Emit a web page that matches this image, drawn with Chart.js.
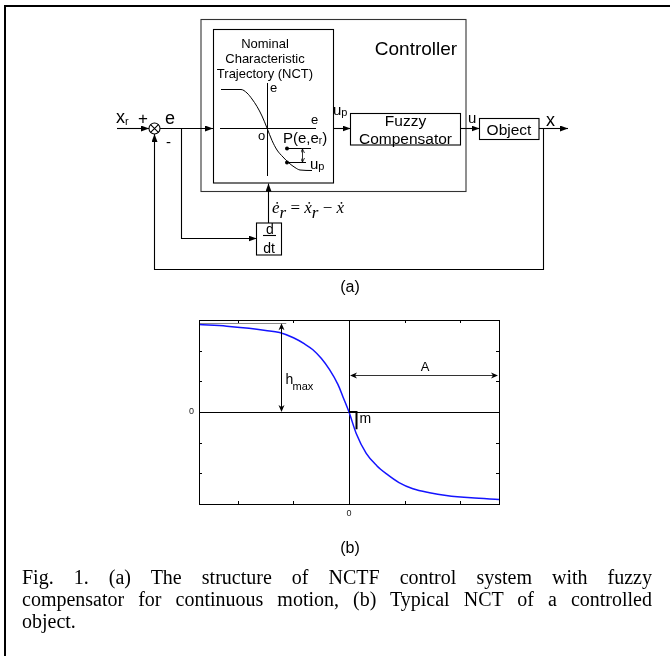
<!DOCTYPE html>
<html>
<head>
<meta charset="utf-8">
<script src="https://cdn.jsdelivr.net/npm/chart.js@4.4.1/dist/chart.umd.min.js"></script>
<style>
  html, body { margin: 0; padding: 0; background: #fff; }
  #page { position: relative; width: 670px; height: 656px; overflow: hidden; font-family: "Liberation Sans", Arial, sans-serif; }
  #frame { position: absolute; left: 4px; top: 5px; width: 700px; height: 700px; border-left: 2px solid #000; border-top: 2px solid #000; }
  canvas { position: absolute; }
  #nctMini { left: 220px; top: 83px; }
  #nctChart { left: 180px; top: 300px; }
  svg { position: absolute; left: 0; top: 0; }
  #caption { position: absolute; left: 22px; top: 566px; width: 630px; font-family: "Liberation Serif", "Times New Roman", serif; font-size: 20px; line-height: 22px; color: #000; }
  #caption div { text-align: justify; text-align-last: justify; white-space: nowrap; }
  #caption div.last { text-align-last: left; }
</style>
</head>
<body>
<div id="page">
  <div id="frame"></div>
  <canvas id="nctMini" width="96" height="93"></canvas>
  <canvas id="nctChart" width="340" height="230"></canvas>

  <svg width="670" height="656" font-family="Liberation Sans, Arial, sans-serif">
    <defs>
      <marker id="ah" markerWidth="8" markerHeight="6" refX="8" refY="3" orient="auto-start-reverse" markerUnits="userSpaceOnUse">
        <path d="M0,0 L8,3 L0,6 z" fill="#000"/>
      </marker>
      <marker id="ahs" markerWidth="4" markerHeight="4" refX="4" refY="2" orient="auto-start-reverse" markerUnits="userSpaceOnUse">
        <path d="M0,0 L4,2 L0,4" fill="none" stroke="#000" stroke-width="0.8"/>
      </marker>
    </defs>
    <g fill="none" stroke="#000" stroke-width="1.1">
      <!-- boxes -->
      <rect x="201" y="19.5" width="265" height="172" stroke="#333"/>
      <rect x="213.5" y="29.5" width="120" height="153.5"/>
      <rect x="350.5" y="113.5" width="110" height="31.5"/>
      <rect x="479.5" y="118.5" width="59.5" height="21"/>
      <rect x="256.5" y="223" width="25" height="32"/>
      <!-- summing junction -->
      <circle cx="154.5" cy="128.5" r="5.5"/>
      <path d="M150.6,124.6 L158.4,132.4 M158.4,124.6 L150.6,132.4"/>
      <!-- signal lines -->
      <path d="M117,128.5 L149,128.5" marker-end="url(#ah)"/>
      <path d="M160,128.5 L213,128.5" marker-end="url(#ah)"/>
      <path d="M181.5,128.5 L181.5,238.5 L256.5,238.5" marker-end="url(#ah)"/>
      <path d="M268.5,223 L268.5,183.5" marker-end="url(#ah)"/>
      <path d="M333.5,128.5 L350.5,128.5" marker-end="url(#ah)"/>
      <path d="M460.5,128.5 L479.5,128.5" marker-end="url(#ah)"/>
      <path d="M539,128.5 L568,128.5" marker-end="url(#ah)"/>
      <path d="M543.5,128.5 L543.5,269.5 L154.5,269.5 L154.5,134" marker-end="url(#ah)"/>
      <!-- P(e,er) and up marker inside NCT box -->
      <path d="M287,148.5 L311,148.5 M287,162.5 L306,162.5"/>
      <path d="M302.5,149 L302.5,162" stroke-width="0.8" marker-start="url(#ahs)" marker-end="url(#ahs)"/>
      <!-- d/dt fraction bar -->
      <path d="M263,235.5 L276,235.5"/>
    </g>
    <circle cx="287" cy="148.5" r="2" fill="#000"/>
    <circle cx="287" cy="162.5" r="2" fill="#000"/>

    <g fill="#000" dominant-baseline="central">
      <text x="416" y="48" font-size="19" text-anchor="middle">Controller</text>
      <text x="265" y="43" font-size="13" text-anchor="middle">Nominal</text>
      <text x="265" y="58" font-size="13" text-anchor="middle">Characteristic</text>
      <text x="265" y="73" font-size="13" text-anchor="middle">Trajectory (NCT)</text>
      <text x="270" y="87" font-size="13">e</text>
      <text x="311" y="119" font-size="13">e</text>
      <text x="258" y="135" font-size="13">o</text>
      <text x="283" y="137" font-size="15">P(e,e<tspan font-size="10" dy="3">r</tspan><tspan dy="-3">)</tspan></text>
      <text x="310" y="163" font-size="15">u<tspan font-size="11" dy="3">p</tspan></text>

      <text x="116" y="117" font-size="18">x<tspan font-size="11" dy="4">r</tspan></text>
      <text x="138" y="118" font-size="17">+</text>
      <text x="165" y="118" font-size="18">e</text>
      <text x="166" y="141" font-size="15">-</text>
      <text x="333" y="109" font-size="15">u<tspan font-size="11" dy="3">p</tspan></text>
      <text x="468" y="117" font-size="15">u</text>
      <text x="546" y="120" font-size="18">x</text>

      <text x="405.5" y="120" font-size="15.5" text-anchor="middle">Fuzzy</text>
      <text x="405.5" y="138" font-size="15.5" text-anchor="middle">Compensator</text>
      <text x="509" y="129" font-size="15.5" text-anchor="middle">Object</text>

      <text x="270" y="229" font-size="14" text-anchor="middle">d</text>
      <text x="269" y="248" font-size="14" text-anchor="middle">dt</text>

      <text x="272" y="207" font-size="17" font-family="Liberation Serif, DejaVu Serif, serif" font-style="italic">ė<tspan font-size="17" dy="5">r</tspan><tspan dy="-5" font-style="normal"> = </tspan>ẋ<tspan dy="5">r</tspan><tspan dy="-5" font-style="normal"> − </tspan>ẋ</text>

      <text x="350" y="286" font-size="16" text-anchor="middle">(a)</text>
      <text x="350" y="547" font-size="16" text-anchor="middle">(b)</text>
    </g>
  </svg>

  <div id="caption">
    <div>Fig. 1. (a) The structure of NCTF control system with fuzzy</div>
    <div>compensator for continuous motion, (b) Typical NCT of a controlled</div>
    <div class="last">object.</div>
  </div>
</div>

<script>
// (b) typical NCT curve
const nctX = [-2.7, -2.2, -1.8, -1.5, -1.25, -1.0, -0.8, -0.65, -0.5, -0.35, -0.2, -0.11, 0, 0.13, 0.31, 0.5, 0.67, 0.9, 1.15, 1.45, 1.75, 2.2, 2.7];
const nctY = [2.85, 2.8, 2.73, 2.66, 2.59, 2.42, 2.22, 2.03, 1.75, 1.38, 0.9, 0.5, 0, -0.7, -1.35, -1.75, -2.01, -2.3, -2.5, -2.63, -2.72, -2.8, -2.85];
const xTicks = [-2, -1, 0, 1, 2];
const yTicks = [-2, -1, 0, 1, 2];
const xTickLabels = ['', '', '0', '', ''];
const yTickLabels = ['', '', '0', '', ''];

// (a) small NCT sketch inside the controller box
const miniX = [-46, -26, -20, -15, -10, -5, 0, 5, 10, 16, 22, 28, 33, 45];
const miniY = [38.5, 38.5, 35, 29, 21.5, 12, 0, -12.5, -22, -29, -35, -39.5, -42, -42.5];

// annotation anchors in data units of chart (b)
const hmaxX = -1.22, hmaxTop = 2.89, hmaxLineEnd = -1.13;
const spanY = 1.21, mX = 0.12, mBottom = -0.56;

const el = sel => document.querySelector(sel);
const pts = (xs, ys) => xs.map((x, i) => ({ x, y: ys[i] }));

function arrowHead(ctx, x, y, dir) {
  // dir: 'up' | 'down' | 'left' | 'right', tip at x,y
  const L = 7, W = 3;
  ctx.beginPath();
  ctx.moveTo(x, y);
  if (dir === 'up') { ctx.lineTo(x - W, y + L); ctx.lineTo(x, y + L - 2); ctx.lineTo(x + W, y + L); }
  if (dir === 'down') { ctx.lineTo(x - W, y - L); ctx.lineTo(x, y - L + 2); ctx.lineTo(x + W, y - L); }
  if (dir === 'left') { ctx.lineTo(x + L, y - W); ctx.lineTo(x + L - 2, y); ctx.lineTo(x + L, y + W); }
  if (dir === 'right') { ctx.lineTo(x - L, y - W); ctx.lineTo(x - L + 2, y); ctx.lineTo(x - L, y + W); }
  ctx.closePath();
  ctx.fill();
}

const nctAxes = {
  id: 'nctAxes',
  beforeDatasetsDraw(chart) {
    const { ctx, chartArea: a, scales: { x, y } } = chart;
    const x0 = Math.round(x.getPixelForValue(0)) + 0.5;
    const y0 = Math.round(y.getPixelForValue(0)) + 0.5;
    ctx.save();
    ctx.strokeStyle = '#000';
    ctx.lineWidth = 1;
    ctx.beginPath();
    ctx.moveTo(a.left, y0); ctx.lineTo(a.right, y0);
    ctx.moveTo(x0, a.top); ctx.lineTo(x0, a.bottom);
    ctx.stroke();
    // h_max reference line
    ctx.strokeStyle = '#888';
    ctx.beginPath();
    const yt = Math.round(y.getPixelForValue(hmaxTop)) + 0.5;
    ctx.moveTo(a.left, yt); ctx.lineTo(x.getPixelForValue(hmaxLineEnd), yt);
    ctx.stroke();
    ctx.restore();
  },
  afterDatasetsDraw(chart) {
    const { ctx, chartArea: a, scales: { x, y } } = chart;
    ctx.save();
    ctx.strokeStyle = '#000';
    ctx.fillStyle = '#000';
    ctx.lineWidth = 1;
    ctx.strokeRect(Math.round(a.left) + 0.5, Math.round(a.top) + 0.5, Math.round(a.right - a.left), Math.round(a.bottom - a.top));
    // inward tick marks
    ctx.beginPath();
    xTicks.forEach(v => {
      const px = Math.round(x.getPixelForValue(v)) + 0.5;
      ctx.moveTo(px, a.bottom); ctx.lineTo(px, a.bottom - 3);
      ctx.moveTo(px, a.top); ctx.lineTo(px, a.top + 3);
    });
    yTicks.forEach(v => {
      const py = Math.round(y.getPixelForValue(v)) + 0.5;
      ctx.moveTo(a.left, py); ctx.lineTo(a.left + 3, py);
      ctx.moveTo(a.right, py); ctx.lineTo(a.right - 3, py);
    });
    ctx.stroke();
    // tick labels
    ctx.font = '9px "Liberation Sans", Arial, sans-serif';
    ctx.fillStyle = '#222';
    ctx.textAlign = 'center';
    ctx.textBaseline = 'middle';
    xTicks.forEach((v, i) => { if (xTickLabels[i]) ctx.fillText(xTickLabels[i], x.getPixelForValue(v), a.bottom + 10); });
    ctx.textAlign = 'right';
    yTicks.forEach((v, i) => { if (yTickLabels[i]) ctx.fillText(yTickLabels[i], a.left - 5, y.getPixelForValue(v)); });

    // h_max double arrow
    ctx.fillStyle = '#000';
    const hx = Math.round(x.getPixelForValue(hmaxX)) + 0.5;
    const hTop = y.getPixelForValue(hmaxTop), hBot = y.getPixelForValue(0);
    ctx.beginPath(); ctx.moveTo(hx, hTop + 3); ctx.lineTo(hx, hBot - 3); ctx.stroke();
    arrowHead(ctx, hx, hTop, 'up');
    arrowHead(ctx, hx, hBot, 'down');
    ctx.textAlign = 'left';
    ctx.font = '14px "Liberation Sans", Arial, sans-serif';
    ctx.fillText('h', hx + 4, y.getPixelForValue(1.05));
    ctx.font = '11px "Liberation Sans", Arial, sans-serif';
    ctx.fillText('max', hx + 11, y.getPixelForValue(0.8));

    // A double arrow
    const ay = Math.round(y.getPixelForValue(spanY)) + 0.5;
    const ax0 = x.getPixelForValue(0), ax1 = a.right;
    ctx.strokeStyle = '#333';
    ctx.beginPath(); ctx.moveTo(ax0 + 3, ay); ctx.lineTo(ax1 - 3, ay); ctx.stroke();
    arrowHead(ctx, ax0 + 1, ay, 'left');
    arrowHead(ctx, ax1 - 1, ay, 'right');
    ctx.textAlign = 'center';
    ctx.font = '13px "Liberation Sans", Arial, sans-serif';
    ctx.fillText('A', (ax0 + ax1) / 2 + 1, ay - 8);

    // slope marker m
    const mx = Math.round(x.getPixelForValue(mX)) + 0.5;
    ctx.strokeStyle = '#000';
    ctx.lineWidth = 2;
    ctx.beginPath();
    ctx.moveTo(x.getPixelForValue(0), y.getPixelForValue(0));
    ctx.lineTo(mx, y.getPixelForValue(0));
    ctx.lineTo(mx, y.getPixelForValue(mBottom));
    ctx.stroke();
    ctx.textAlign = 'left';
    ctx.font = '14px "Liberation Sans", Arial, sans-serif';
    ctx.fillText('m', mx + 3, y.getPixelForValue(-0.22));
    ctx.restore();
  }
};

const miniAxes = {
  id: 'miniAxes',
  beforeDatasetsDraw(chart) {
    const { ctx, chartArea: a, scales: { x, y } } = chart;
    const x0 = Math.round(x.getPixelForValue(0)) + 0.5;
    const y0 = Math.round(y.getPixelForValue(0)) + 0.5;
    ctx.save();
    ctx.strokeStyle = '#000';
    ctx.lineWidth = 1;
    ctx.beginPath();
    ctx.moveTo(a.left, y0); ctx.lineTo(a.right, y0);
    ctx.moveTo(x0, a.top); ctx.lineTo(x0, a.bottom);
    ctx.stroke();
    ctx.restore();
  }
};

const common = {
  responsive: false,
  animation: false,
  events: [],
  plugins: { legend: { display: false }, tooltip: { enabled: false } }
};

new Chart(el('#nctChart'), {
  type: 'line',
  data: {
    datasets: [{
      data: pts(nctX, nctY),
      borderColor: '#1414ff',
      borderWidth: 1.5,
      pointRadius: 0,
      cubicInterpolationMode: 'monotone',
      fill: false
    }]
  },
  options: {
    ...common,
    layout: { padding: { left: 19, top: 20, right: 21, bottom: 26 } },
    scales: {
      x: { type: 'linear', min: -2.7, max: 2.7, display: false },
      y: { type: 'linear', min: -3, max: 3, display: false }
    }
  },
  plugins: [nctAxes]
});

new Chart(el('#nctMini'), {
  type: 'line',
  data: {
    datasets: [{
      data: pts(miniX, miniY),
      borderColor: '#000',
      borderWidth: 1,
      pointRadius: 0,
      cubicInterpolationMode: 'monotone',
      fill: false
    }]
  },
  options: {
    ...common,
    layout: { padding: 0 },
    scales: {
      x: { type: 'linear', min: -47, max: 49, display: false },
      y: { type: 'linear', min: -48, max: 45, display: false }
    }
  },
  plugins: [miniAxes]
});
</script>
</body>
</html>
